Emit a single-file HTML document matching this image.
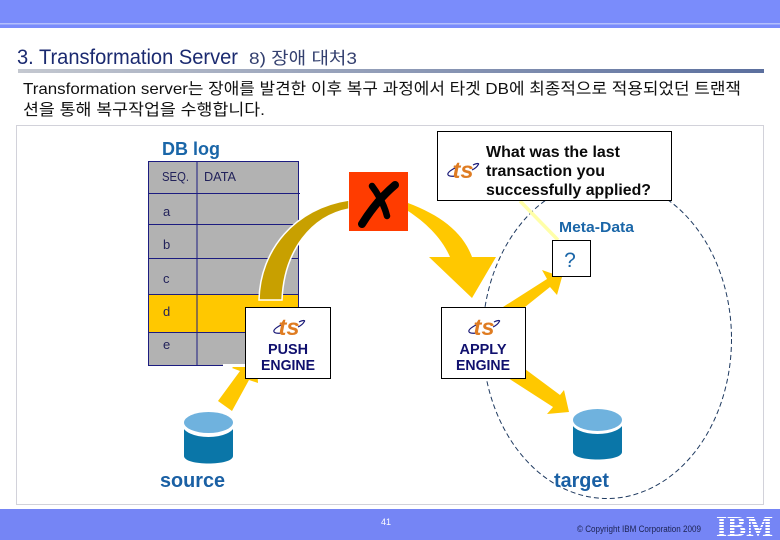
<!DOCTYPE html>
<html><head><meta charset="utf-8"><style>
html,body{margin:0;padding:0;background:#fff;width:780px;height:540px;overflow:hidden}
svg{display:block}
text{font-family:"Liberation Sans","Noto Sans CJK KR",sans-serif}
</style></head><body>
<svg xmlns="http://www.w3.org/2000/svg" width="780" height="540" viewBox="0 0 780 540">
<defs>
<linearGradient id="g" x1="0" x2="1" y1="0" y2="0"><stop offset="0" stop-color="#c4c8d0"/><stop offset="1" stop-color="#5b6f9e"/></linearGradient>
<g id="ts">
<path d="M-8 6C-14 7-17 5-14 2C-12 0-10-1-8-2M10-5C14-7 17-7 15-5C14-3 11-1 9 0" fill="none" stroke="#1a1a78" stroke-width="1.200"/>
<text x="0" y="8" text-anchor="middle" font-size="23" font-weight="bold" font-style="italic" fill="#df7c22" textLength="21" lengthAdjust="spacingAndGlyphs">ts</text>
</g>
</defs>
<rect width="780" height="540" fill="#fff"/>
<rect width="780" height="28" fill="#7a8cfb"/>
<rect y="23" width="780" height="1.500" fill="#b4c0fc"/>
<text x="17" y="64" font-size="21" fill="#1b2a70" textLength="221" lengthAdjust="spacingAndGlyphs">3. Transformation Server</text>
<text x="249" y="64" font-size="17" fill="#34406f" textLength="108" lengthAdjust="spacingAndGlyphs">8) 장애 대처3</text>
<rect x="18" y="69" width="746" height="4" fill="url(#g)"/>
<text x="23" y="94" font-size="16" fill="#111" textLength="718" lengthAdjust="spacingAndGlyphs">Transformation server는 장애를 발견한 이후 복구 과정에서 타겟 DB에 최종적으로 적용되었던 트랜잭</text>
<text x="23" y="115" font-size="16" fill="#111" textLength="242" lengthAdjust="spacingAndGlyphs">션을 통해 복구작업을 수행합니다.</text>
<rect x="16.500" y="125.500" width="747" height="379" fill="#fff" stroke="#d2d2da"/>

<path d="M218 401L240 371L232 368L256 345L258 383L249 380L232 411Z" fill="#ffc800"/>

<text x="162" y="155" font-size="18" font-weight="bold" fill="#1a66a8" textLength="58" lengthAdjust="spacingAndGlyphs">DB log</text>
<rect x="148" y="161" width="150" height="205" fill="#b2b2b2"/>
<rect x="148" y="294" width="150" height="38" fill="#ffc800"/>
<g stroke="#1c1c80" stroke-width="1" fill="none">
<rect x="148.500" y="161.500" width="150" height="204"/>
<path d="M197 161V366M148 193.500H300M148 224.500H298M148 258.500H298M148 294.500H298M148 332.500H298"/>
</g>
<g font-size="13" fill="#22225a">
<text x="162" y="181" textLength="27" lengthAdjust="spacingAndGlyphs">SEQ.</text>
<text x="204" y="181" textLength="32" lengthAdjust="spacingAndGlyphs">DATA</text>
<text x="163" y="216">a</text><text x="163" y="249">b</text><text x="163" y="283">c</text><text x="163" y="316">d</text><text x="163" y="349">e</text>
</g>
<rect x="223" y="364" width="24" height="3" fill="#fff"/>

<path d="M259 300C260 250 295 208 349 200V209C312 216 284 250 282 300Z" fill="#c8a000" stroke="#fff" stroke-width="1.500"/>
<rect x="349" y="172" width="59" height="59" fill="#ff3c00"/>
<g stroke="#000" fill="none" stroke-linecap="round">
<path d="M362 224C372 208 382 196 395 185" stroke-width="8"/>
<path d="M372 186C378 194 384 204 387 216" stroke-width="6.500"/>
</g>

<path d="M408 203C440 215 463 232 472 257H496L472 298L429 257H450C442 238 425 222 408 211Z" fill="#ffc800"/>
<path d="M503 307L547 279L542 270L562 277L557 295L550 287L525 307Z" fill="#ffc800"/>
<path d="M495 365L525 369L560 395L564 390L569 412L547 414L553 407L508 378Z" fill="#ffc800"/>

<ellipse cx="607" cy="339" rx="124.500" ry="159.500" fill="none" stroke="#1f3a60" stroke-width="1" stroke-dasharray="5 3"/>
<path d="M520 201L558 240" stroke="#ffffa8" stroke-width="3.500" fill="none"/>

<rect x="437.500" y="131.500" width="234" height="69" fill="#fff" stroke="#000"/>
<use href="#ts" x="463" y="170"/>
<g font-size="16" font-weight="bold" fill="#0a0a0a">
<text x="486" y="157" textLength="134" lengthAdjust="spacingAndGlyphs">What was the last</text>
<text x="486" y="176" textLength="119" lengthAdjust="spacingAndGlyphs">transaction you</text>
<text x="486" y="195" textLength="165" lengthAdjust="spacingAndGlyphs">successfully applied?</text>
</g>
<text x="559" y="232" font-size="15" font-weight="bold" fill="#1a66a8" textLength="75" lengthAdjust="spacingAndGlyphs">Meta-Data</text>
<rect x="552.500" y="240.500" width="38" height="36" fill="#fff" stroke="#000"/>
<text x="570" y="267" font-size="21" fill="#1a66a8" text-anchor="middle">?</text>

<rect x="245.500" y="307.500" width="85" height="71" fill="#fff" stroke="#000"/>
<use href="#ts" x="289" y="327"/>
<g font-size="15" font-weight="bold" fill="#10106e" text-anchor="middle">
<text x="288" y="354" textLength="40" lengthAdjust="spacingAndGlyphs">PUSH</text>
<text x="288" y="370" textLength="54" lengthAdjust="spacingAndGlyphs">ENGINE</text>
</g>
<rect x="441.500" y="307.500" width="84" height="71" fill="#fff" stroke="#000"/>
<use href="#ts" x="484" y="327"/>
<g font-size="15" font-weight="bold" fill="#10106e" text-anchor="middle">
<text x="483" y="354" textLength="47" lengthAdjust="spacingAndGlyphs">APPLY</text>
<text x="483" y="370" textLength="54" lengthAdjust="spacingAndGlyphs">ENGINE</text>
</g>

<path d="M184 423V456C184 466 233 466 233 456V423Z" fill="#0a76a8"/>
<ellipse cx="208.500" cy="425" rx="26" ry="12" fill="#fff"/>
<ellipse cx="208.500" cy="422.500" rx="24.500" ry="10.500" fill="#6fb2de"/>
<path d="M573 420V452C573 462 622 462 622 452V420Z" fill="#0a76a8"/>
<ellipse cx="597.500" cy="422" rx="26" ry="12" fill="#fff"/>
<ellipse cx="597.500" cy="420" rx="24.500" ry="11" fill="#6fb2de"/>
<text x="160" y="487" font-size="20" font-weight="bold" fill="#1a60a4" textLength="65" lengthAdjust="spacingAndGlyphs">source</text>
<text x="554" y="487" font-size="20" font-weight="bold" fill="#1a60a4" textLength="55" lengthAdjust="spacingAndGlyphs">target</text>

<rect y="509" width="780" height="31" fill="#7585f5"/>
<text x="381" y="525" font-size="9" fill="#fff">41</text>
<text x="577" y="532" font-size="9" fill="#1c2250" textLength="124" lengthAdjust="spacingAndGlyphs">© Copyright IBM Corporation 2009</text>
<text x="716" y="536" font-size="29" font-weight="bold" fill="#fff" style="font-family:'Liberation Serif',serif" textLength="57" lengthAdjust="spacingAndGlyphs">IBM</text>
<g fill="#7585f5"><rect x="714" y="518" width="62" height="1"/><rect x="714" y="521" width="62" height="1"/><rect x="714" y="524" width="62" height="1"/><rect x="714" y="527" width="62" height="1"/><rect x="714" y="530" width="62" height="1"/><rect x="714" y="533" width="62" height="1"/></g>
</svg>
</body></html>
